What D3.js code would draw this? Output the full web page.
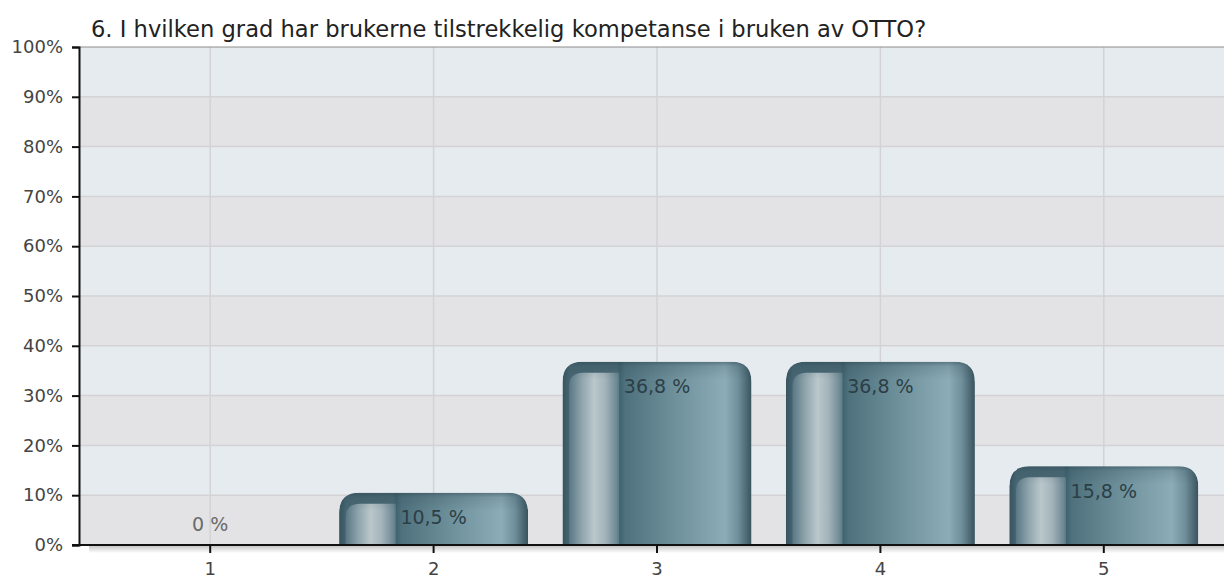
<!DOCTYPE html>
<html>
<head>
<meta charset="utf-8">
<script src="https://cdn.jsdelivr.net/npm/d3@7"></script>
<style>
    body { margin: 0; background: #fff; }
    text { font-family: "DejaVu Sans", Verdana, sans-serif; }
</style>
</head>
<body>
<div id="chart"></div>
<script>
var title = "6. I hvilken grad har brukerne tilstrekkelig kompetanse i bruken av OTTO?";
var categories = ["1", "2", "3", "4", "5"];
var values = [0, 10.5, 36.8, 36.8, 15.8];
var valueLabels = ["0 %", "10,5 %", "36,8 %", "36,8 %", "15,8 %"];
var yTicks = [0, 10, 20, 30, 40, 50, 60, 70, 80, 90, 100];

function drawChart() {
    var w = 1224, h = 578;
    var left = 79, top = 47, bottom = 545;

    var svg = d3.select("#chart")
        .append("svg")
        .attr("width", w)
        .attr("height", h);

    var defs = svg.append("defs");

    // main bar gradient (left to right)
    var g1 = defs.append("linearGradient").attr("id", "barMain")
        .attr("x1", "0").attr("x2", "1").attr("y1", "0").attr("y2", "0");
    [[0, "#37545f"], [0.04, "#476773"], [0.29, "#4a6a76"],
     [0.30, "#3f6270"], [0.33, "#4e717d"], [0.6, "#6f919c"], [0.86, "#8cadb8"],
     [0.93, "#6f8f9a"], [1, "#38535e"]]
        .forEach(s => g1.append("stop").attr("offset", s[0]).attr("stop-color", s[1]));

    // highlight on the left part of the bar
    var g2 = defs.append("linearGradient").attr("id", "barShine")
        .attr("x1", "0").attr("x2", "1").attr("y1", "0").attr("y2", "0");
    [[0, "#587784"], [0.25, "#8fa4ac"], [0.5, "#bac7cc"], [0.72, "#a3b4ba"], [0.95, "#6d8994"], [1, "#5a7884"]]
        .forEach(s => g2.append("stop").attr("offset", s[0]).attr("stop-color", s[1]));

    // darker cap at the top of each bar
    var g3 = defs.append("linearGradient").attr("id", "barCap")
        .attr("x1", "0").attr("x2", "0").attr("y1", "0").attr("y2", "1");
    g3.append("stop").attr("offset", 0).attr("stop-color", "#2c4550").attr("stop-opacity", 0.5);
    g3.append("stop").attr("offset", 0.25).attr("stop-color", "#2c4550").attr("stop-opacity", 0.18);
    g3.append("stop").attr("offset", 1).attr("stop-color", "#2c4550").attr("stop-opacity", 0);

    var g4 = defs.append("linearGradient").attr("id", "axisShadow")
        .attr("x1", "0").attr("x2", "0").attr("y1", "0").attr("y2", "1");
    g4.append("stop").attr("offset", 0).attr("stop-color", "#c8c8c8");
    g4.append("stop").attr("offset", 1).attr("stop-color", "#ffffff");

    // Scales
    var xScale = d3.scaleBand()
        .domain(categories)
        .range([98.5, 1215.5])
        .paddingInner(0.154)
        .paddingOuter(0.077);

    var yScale = d3.scaleLinear()
        .domain([0, 100])
        .range([bottom, top]);

    // Background bands
    svg.selectAll(".band")
        .data(yTicks.slice(0, -1))
        .enter()
        .append("rect")
        .attr("x", left)
        .attr("y", d => yScale(d + 10))
        .attr("width", w - left)
        .attr("height", d => yScale(d) - yScale(d + 10))
        .attr("fill", (d, i) => i % 2 ? "#e6ebef" : "#e3e3e5");

    // Grid lines
    svg.selectAll(".hgrid")
        .data(yTicks.slice(1, -1))
        .enter()
        .append("line")
        .attr("x1", left).attr("x2", w)
        .attr("y1", d => yScale(d)).attr("y2", d => yScale(d))
        .attr("stroke", "#d3d3d5")
        .attr("stroke-width", 1.5);

    svg.selectAll(".vgrid")
        .data(categories)
        .enter()
        .append("line")
        .attr("x1", d => xScale(d) + xScale.bandwidth() / 2)
        .attr("x2", d => xScale(d) + xScale.bandwidth() / 2)
        .attr("y1", top).attr("y2", bottom)
        .attr("stroke", "#d3d3d5")
        .attr("stroke-width", 1.5);

    // top border of plot
    svg.append("line")
        .attr("x1", left).attr("x2", w)
        .attr("y1", top).attr("y2", top)
        .attr("stroke", "#8c8c8c")
        .attr("stroke-width", 1);

    // shadow under x axis
    svg.append("rect")
        .attr("x", left + 10).attr("y", bottom + 1)
        .attr("width", w - left - 10).attr("height", 7)
        .attr("fill", "url(#axisShadow)");

    // Bars
    var bw = xScale.bandwidth();
    var r = 20;
    function barPath(x, y, width, height, rad) {
        rad = Math.min(rad, height, width / 2);
        return `M${x},${y + height}V${y + rad}Q${x},${y} ${x + rad},${y}H${x + width - rad}Q${x + width},${y} ${x + width},${y + rad}V${y + height}Z`;
    }
    // only the top-left corner rounded
    function shinePath(x, y, width, height, rad) {
        rad = Math.min(rad, height, width / 2);
        return `M${x},${y + height}V${y + rad}Q${x},${y} ${x + rad},${y}H${x + width}V${y + height}Z`;
    }

    var data = categories.map((c, i) => ({ cat: c, value: values[i], label: valueLabels[i] }));

    data.forEach((d, i) => {
        if (d.value <= 0) return;
        var x = xScale(d.cat), y = yScale(d.value), hh = yScale(0) - y;
        var clipId = "clip" + i;
        defs.append("clipPath").attr("id", clipId)
            .append("path").attr("d", barPath(x, y, bw, hh, r));
        var g = svg.append("g").attr("clip-path", `url(#${clipId})`);
        g.append("path")
            .attr("d", barPath(x, y, bw, hh, r))
            .attr("fill", "url(#barMain)");
        var sx = x + bw * 0.035, sw = bw * 0.265;
        g.append("path")
            .attr("d", shinePath(sx, y + 11, sw, hh - 11, 14))
            .attr("fill", "url(#barShine)");
        g.append("rect")
            .attr("x", x).attr("y", y)
            .attr("width", bw).attr("height", 18)
            .attr("fill", "url(#barCap)");
    });

    // Value labels
    svg.selectAll(".vlabel")
        .data(data)
        .enter()
        .append("text")
        .attr("x", d => xScale(d.cat) + bw / 2)
        .attr("y", d => d.value > 0 ? yScale(d.value) + 26 : yScale(0) - 20)
        .attr("text-anchor", "middle")
        .attr("dominant-baseline", "middle")
        .style("font-size", "19px")
        .style("fill", d => d.value > 0 ? "#2c3f47" : "#6a6a6a")
        .text(d => d.label);

    // Axes
    svg.append("g")
        .attr("transform", `translate(${left},0)`)
        .call(d3.axisLeft(yScale).tickValues(yTicks).tickFormat(d => d + "%").tickSize(7).tickPadding(9))
        .call(g => g.select(".domain").attr("stroke", "#111").attr("stroke-width", 2))
        .call(g => g.selectAll(".tick line").attr("stroke", "#111").attr("stroke-width", 2))
        .call(g => g.selectAll(".tick text")
            .style("font-family", "'DejaVu Sans', sans-serif")
            .style("font-size", "18px").style("fill", "#444"));

    var xAxis = svg.append("g")
        .attr("transform", `translate(0,${bottom})`)
        .call(d3.axisBottom(xScale).tickSize(8).tickPadding(9))
        .call(g => g.select(".domain").remove())
        .call(g => g.selectAll(".tick line").attr("stroke", "#111").attr("stroke-width", 2))
        .call(g => g.selectAll(".tick text")
            .style("font-family", "'DejaVu Sans', sans-serif")
            .style("font-size", "18px").style("fill", "#444"));
    xAxis.append("line")
        .attr("x1", left - 7).attr("x2", w)
        .attr("stroke", "#111").attr("stroke-width", 2);

    // Title
    svg.append("text")
        .attr("x", 91)
        .attr("y", 37)
        .style("font-size", "22.6px")
        .style("fill", "#222")
        .text(title);
}

drawChart();
</script>
</body>
</html>
